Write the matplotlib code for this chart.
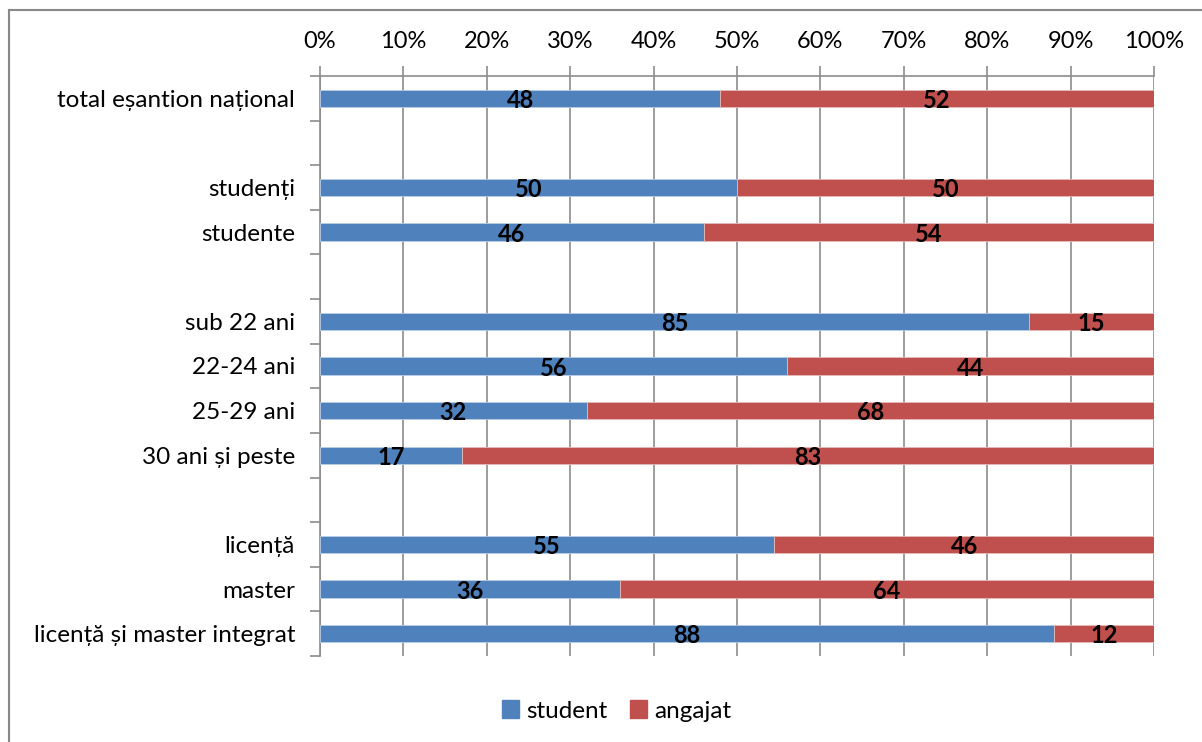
import numpy as np
import matplotlib.pyplot as plt
from matplotlib.lines import Line2D

plt.rcParams['font.family'] = ['Lato', 'DejaVu Sans']

# categories (empty strings are the gaps between groups)
categories = ["total eșantion național", "",
              "studenți", "studente", "",
              "sub 22 ani", "22-24 ani", "25-29 ani", "30 ani și peste", "",
              "licență", "master", "licență și master integrat"]
student = [48, None, 50, 46, None, 85, 56, 32, 17, None, 55, 36, 88]
angajat = [52, None, 50, 54, None, 15, 44, 68, 83, None, 46, 64, 12]
series_names = ["student", "angajat"]
xticks = [0, 10, 20, 30, 40, 50, 60, 70, 80, 90, 100]

c_blue = "#4F81BD"
c_red = "#C0504D"
c_grid = "#8C8C8C"

fig = plt.figure(figsize=(12.02, 7.42), dpi=100)
ax = fig.add_axes([320/1202, 1 - 656/742, (1154-320)/1202, (656-76)/742])

y = np.arange(len(categories))
for i in range(len(categories)):
    if student[i] is None:
        continue
    tot = student[i] + angajat[i]
    s = student[i] / tot
    a = angajat[i] / tot
    ax.barh(y[i], s, height=0.39, color=c_blue, edgecolor="#B9CDE5", linewidth=0.6, zorder=3)
    ax.barh(y[i], a, left=s, height=0.39, color=c_red, edgecolor="#E6B9B8", linewidth=0.6, zorder=3)
    ax.text(s / 2, y[i] + 0.05, str(student[i]), ha="center", va="center",
            fontsize=17, fontweight="bold", color="black", zorder=4)
    ax.text(s + a / 2, y[i] + 0.05, str(angajat[i]), ha="center", va="center",
            fontsize=17, fontweight="bold", color="black", zorder=4)

ax.set_xlim(0, 1)
ax.set_ylim(len(categories) - 0.5, -0.5)

ax.xaxis.tick_top()
ax.set_xticks([t / 100 for t in xticks])
ax.set_xticklabels([f"{t}%" for t in xticks], fontsize=17)
ax.tick_params(axis="x", length=7, color=c_grid, width=1.2, pad=10)
ax.grid(axis="x", color=c_grid, linewidth=1.2, zorder=0)

ax.set_yticks(y)
ax.set_yticklabels(categories, fontsize=17.5)
ax.set_yticks(np.arange(-0.5, len(categories), 1), minor=True)
ax.tick_params(axis="y", which="major", length=0, pad=18)
ax.tick_params(axis="y", which="minor", length=7, color=c_grid, width=1.2)

for side in ["right", "bottom"]:
    ax.spines[side].set_visible(False)
for side in ["left", "top"]:
    ax.spines[side].set_color(c_grid)
    ax.spines[side].set_linewidth(1.2)

handles = [plt.Rectangle((0, 0), 1, 1, color=c_blue), plt.Rectangle((0, 0), 1, 1, color=c_red)]
fig.legend(handles, series_names, loc="center", bbox_to_anchor=(0.513, 1 - 711/742),
           ncol=2, frameon=False, fontsize=17.5, handlelength=0.7, handleheight=0.7,
           handletextpad=0.3, columnspacing=0.9)

# chart border (cropped at right/bottom)
fig.add_artist(Line2D([8.5/1202, 8.5/1202], [0, 1 - 10/742], color="#888888", linewidth=1.5))
fig.add_artist(Line2D([8.5/1202, 1], [1 - 10/742, 1 - 10/742], color="#888888", linewidth=1.5))

fig.savefig("out.png", dpi=100)
